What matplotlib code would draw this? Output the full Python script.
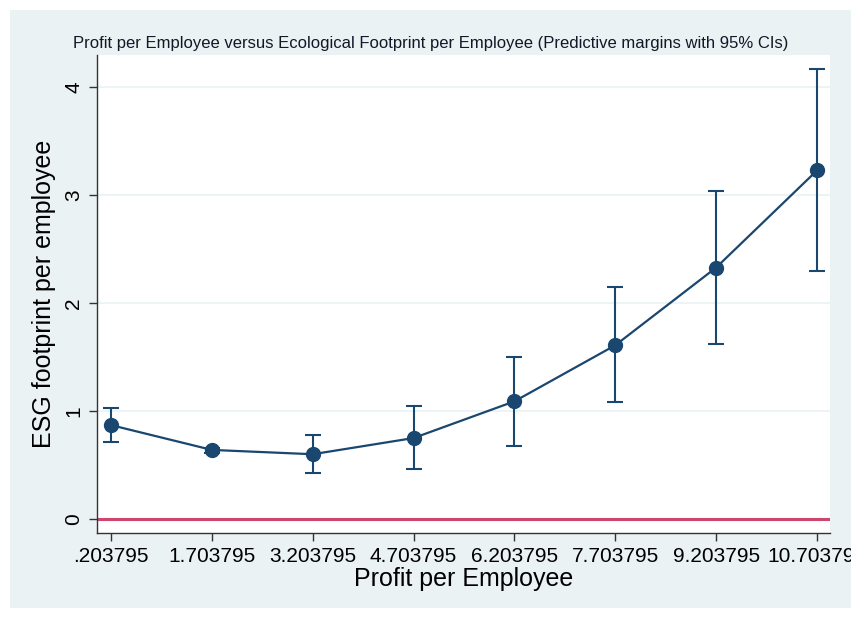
import numpy as np
import matplotlib.pyplot as plt
from matplotlib.patches import Rectangle

# ข้อมูลจากกราฟ (predictive margins with 95% CIs)
profit = np.array([0.203795, 1.703795, 3.203795, 4.703795, 6.203795, 7.703795, 9.203795, 10.703795])
margin = np.array([0.87, 0.64, 0.60, 0.75, 1.09, 1.61, 2.33, 3.23])
ci_low = np.array([0.71, 0.61, 0.43, 0.46, 0.68, 1.08, 1.62, 2.30])
ci_high = np.array([1.03, 0.66, 0.78, 1.05, 1.50, 2.15, 3.04, 4.17])
xtick_labels = ['.203795', '1.703795', '3.203795', '4.703795', '6.203795',
                '7.703795', '9.203795', '10.703795']
yticks = [0, 1, 2, 3, 4]

plt.rcParams['font.family'] = ['Liberation Sans', 'DejaVu Sans']

navy = '#1a476f'
bg = '#eaf2f3'

fig = plt.figure(figsize=(8.51, 6.17), dpi=100)
fig.patch.set_facecolor('white')
fig.add_artist(Rectangle((10 / 851, 9 / 617), 1, 598 / 617, transform=fig.transFigure,
                         facecolor=bg, edgecolor='none', zorder=-10))

ax = fig.add_axes([97 / 851, 84 / 617, 733 / 851, 478 / 617])
ax.set_facecolor('white')

# เส้นกริดและเส้นศูนย์
ax.set_yticks(yticks)
ax.grid(axis='y', color=bg, linewidth=1.2)
ax.set_axisbelow(True)
ax.axhline(0, color='#cc4670', linewidth=2.2, zorder=2)

# พล็อตค่าพร้อมช่วงความเชื่อมั่น
err = np.vstack([margin - ci_low, ci_high - margin])
ax.errorbar(profit, margin, yerr=err, fmt='none', ecolor=navy, elinewidth=1.5,
            capsize=6, capthick=1.5, zorder=3)
ax.plot(profit, margin, color=navy, linewidth=1.6, marker='o', markersize=10, zorder=4)

ax.set_xlim(-0.004, 10.897)
ax.set_ylim(-0.13, 4.30)
ax.set_xticks(profit)
ax.set_xticklabels(xtick_labels, fontsize=15)
ax.set_yticklabels([str(v) for v in yticks], fontsize=15, rotation=90, va='center')

for side in ['top', 'right']:
    ax.spines[side].set_visible(False)
for side in ['left', 'bottom']:
    ax.spines[side].set_color('#333333')
    ax.spines[side].set_linewidth(1.0)
ax.tick_params(axis='both', direction='out', length=6, width=1, color='#333333', pad=4)

ax.set_xlabel('Profit per Employee', fontsize=18, labelpad=1)
ax.set_ylabel('ESG footprint per employee', fontsize=18, labelpad=6)
ax.set_title('Profit per Employee versus Ecological Footprint per Employee (Predictive margins with 95% CIs)',
             fontsize=12, pad=5, x=0.455, color='#111827')

fig.savefig('out.png', dpi=100)
